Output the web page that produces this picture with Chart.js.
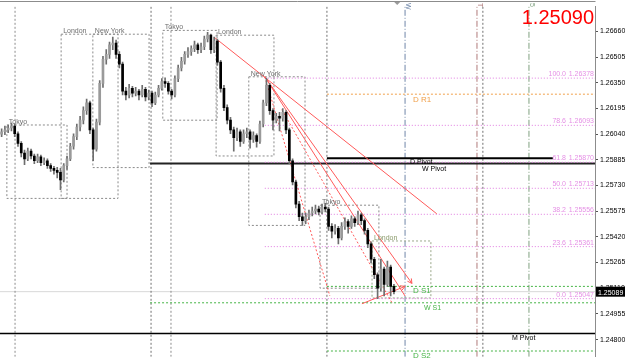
<!DOCTYPE html>
<html>
<head>
<meta charset="utf-8">
<script src="https://cdn.jsdelivr.net/npm/chart.js@4.4.1/dist/chart.umd.min.js"></script>
<style>
  html, body { margin: 0; padding: 0; background: #fff; }
  #wrap { width: 625px; height: 363px; }
</style>
</head>
<body>
<div id="wrap"><canvas id="chart" width="625" height="363"></canvas></div>
<script>
// --- candles (M30), oldest first ---
var OPEN = [
  1.26040,1.26054,1.26066,1.26077,1.26089,1.26042,1.25984,1.25926,1.25891,1.25937,
  1.25908,1.25879,1.25903,1.25868,1.25879,1.25850,1.25833,1.25821,1.25809,1.25763,
  1.25850,1.25891,1.25967,1.26025,1.26083,1.26124,1.26182,1.26229,1.26066,1.25949,
  1.26112,1.26346,1.26491,1.26521,1.26579,1.26590,1.26521,1.26462,1.26299,1.26276,
  1.26316,1.26287,1.26299,1.26276,1.26311,1.26264,1.26287,1.26229,1.26276,1.26316,
  1.26357,1.26346,1.26299,1.26276,1.26375,1.26439,1.26480,1.26521,1.26538,1.26556,
  1.26579,1.26550,1.26567,1.26614,1.26637,1.26550,1.26602,1.26474,1.26316,1.26200,
  1.26124,1.26066,1.26019,1.26054,1.25996,1.26042,1.26054,1.26008,1.26031,1.25996,
  1.26101,1.26229,1.26334,1.26182,1.26124,1.26147,1.26136,1.26171,1.26066,1.25879,
  1.25751,1.25617,1.25541,1.25518,1.25541,1.25564,1.25576,1.25588,1.25570,1.25599,
  1.25588,1.25483,1.25454,1.25471,1.25413,1.25483,1.25512,1.25483,1.25529,1.25506,
  1.25553,1.25518,1.25459,1.25378,1.25285,1.25191,1.25110,1.25226,1.25133,1.25238,
  1.25121
];
var HIGH = [
  1.26072,1.26089,1.26095,1.26107,1.26101,1.26054,1.25995,1.25943,1.25955,1.25949,
  1.25920,1.25920,1.25914,1.25897,1.25891,1.25862,1.25845,1.25839,1.25833,1.25862,
  1.25908,1.25984,1.26042,1.26101,1.26147,1.26205,1.26252,1.26240,1.26077,1.26130,
  1.26363,1.26509,1.26550,1.26596,1.26625,1.26608,1.26538,1.26474,1.26322,1.26340,
  1.26328,1.26322,1.26311,1.26334,1.26322,1.26305,1.26299,1.26293,1.26334,1.26375,
  1.26380,1.26357,1.26311,1.26392,1.26456,1.26503,1.26538,1.26562,1.26573,1.26602,
  1.26590,1.26590,1.26631,1.26655,1.26643,1.26625,1.26614,1.26486,1.26334,1.26217,
  1.26142,1.26083,1.26077,1.26066,1.26066,1.26077,1.26066,1.26054,1.26042,1.26118,
  1.26246,1.26378,1.26346,1.26194,1.26165,1.26171,1.26194,1.26182,1.26077,1.25891,
  1.25763,1.25634,1.25564,1.25564,1.25582,1.25599,1.25611,1.25605,1.25617,1.25623,
  1.25599,1.25500,1.25494,1.25483,1.25506,1.25535,1.25524,1.25547,1.25541,1.25576,
  1.25564,1.25529,1.25471,1.25390,1.25297,1.25203,1.25285,1.25238,1.25273,1.25250,
  1.25133
];
var LOW = [
  1.26025,1.26037,1.26048,1.26060,1.26025,1.25966,1.25903,1.25856,1.25879,1.25891,
  1.25862,1.25868,1.25850,1.25856,1.25833,1.25815,1.25798,1.25775,1.25704,1.25751,
  1.25827,1.25879,1.25949,1.26007,1.26060,1.26101,1.26159,1.26042,1.25879,1.25937,
  1.26095,1.26322,1.26462,1.26497,1.26550,1.26497,1.26439,1.26276,1.26246,1.26258,
  1.26264,1.26270,1.26246,1.26264,1.26240,1.26246,1.26206,1.26217,1.26264,1.26305,
  1.26322,1.26281,1.26252,1.26264,1.26357,1.26421,1.26462,1.26503,1.26515,1.26538,
  1.26527,1.26532,1.26550,1.26596,1.26527,1.26532,1.26456,1.26293,1.26182,1.26101,
  1.26042,1.25937,1.26001,1.25966,1.25984,1.26019,1.25955,1.25990,1.25961,1.25984,
  1.26083,1.26211,1.26159,1.26066,1.26107,1.26060,1.26118,1.26042,1.25862,1.25733,
  1.25594,1.25518,1.25489,1.25500,1.25524,1.25547,1.25559,1.25553,1.25559,1.25570,
  1.25459,1.25413,1.25436,1.25378,1.25401,1.25465,1.25442,1.25471,1.25483,1.25494,
  1.25494,1.25436,1.25355,1.25262,1.25168,1.25047,1.25092,1.25063,1.25121,1.25063,
  1.25075
];
var CLOSE = [
  1.26054,1.26066,1.26077,1.26089,1.26042,1.25984,1.25926,1.25891,1.25937,1.25908,
  1.25879,1.25903,1.25868,1.25879,1.25850,1.25833,1.25821,1.25809,1.25763,1.25850,
  1.25891,1.25967,1.26025,1.26083,1.26124,1.26182,1.26229,1.26066,1.25949,1.26112,
  1.26346,1.26491,1.26521,1.26579,1.26590,1.26521,1.26462,1.26299,1.26276,1.26316,
  1.26287,1.26299,1.26276,1.26311,1.26264,1.26287,1.26229,1.26276,1.26316,1.26357,
  1.26346,1.26299,1.26276,1.26375,1.26439,1.26480,1.26521,1.26538,1.26556,1.26579,
  1.26550,1.26567,1.26614,1.26637,1.26550,1.26602,1.26474,1.26316,1.26200,1.26124,
  1.26066,1.26019,1.26054,1.25996,1.26042,1.26054,1.26008,1.26031,1.25996,1.26101,
  1.26229,1.26334,1.26182,1.26124,1.26147,1.26136,1.26171,1.26066,1.25879,1.25751,
  1.25617,1.25541,1.25518,1.25541,1.25564,1.25576,1.25588,1.25570,1.25599,1.25588,
  1.25483,1.25454,1.25471,1.25413,1.25483,1.25512,1.25483,1.25529,1.25506,1.25553,
  1.25518,1.25459,1.25378,1.25285,1.25191,1.25110,1.25226,1.25133,1.25238,1.25121,
  1.25089
];

// price axis
var Y_MIN = 1.24696;
var Y_MAX = 1.26812;
var Y_TICKS = [1.26660, 1.26505, 1.26350, 1.26195, 1.26040, 1.25885, 1.25730,
               1.25575, 1.25420, 1.25265, 1.25110, 1.24955, 1.24800];
var X_MIN = -0.5;   // bar index range shown (incl. chart shift)
var X_MAX = 181.5;
var BID = 1.25090;

// sessions: name, first bar, last bar, high, low
var SESSION_NAMES = ['Tokyo', 'London', 'New York', 'Tokyo', 'London', 'New York', 'Tokyo', 'London'];
var SESSION_FROM  = [1.6, 18.2, 27.9, 49.3, 65.6, 75.6, 97.4, 113.3];
var SESSION_TO    = [20.0, 35.6, 45.1, 65.9, 83.3, 92.8, 115.4, 131.3];
var SESSION_HIGH  = [1.26095, 1.26643, 1.26643, 1.26666, 1.26637, 1.26386, 1.25611, 1.25395];
var SESSION_LOW   = [1.25652, 1.25652, 1.25838, 1.26124, 1.25908, 1.25489, 1.25110, 1.25051];

// fibonacci retracement from the New York high
var FIB_PCT    = ['100.0', '78.6', '61.8', '50.0', '38.2', '23.6', '0.0'];
var FIB_LEVELS = [1.26378, 1.26093, 1.25870, 1.25713, 1.25556, 1.25361, 1.25047];
var FIB_FROM   = 80.5;

// pivots: name, price, first bar, last bar
var PIVOT_NAMES = ['D R1', 'D Pivot', 'W Pivot', 'D S1', 'W S1', 'D S2', 'M Pivot'];
var PIVOT_PRICE = [1.26281, 1.25894, 1.25862, 1.25121, 1.25022, 1.24731, 1.24836];
var PIVOT_FROM  = [99.5, 99.5, 45.4, 99.5, 45.4, 99.5, -0.5];
var PIVOT_TO    = [181.5, 168.6, 181.5, 181.5, 181.5, 181.5, 181.5];

// vertical lines (bar index)
var VLINES = [4.1, 45.7, 51.8, 99.5, 123.4, 145.4, 147.2, 161.3];
var VLINE_TAGS = ['', '', '', '', 'W', 'T', '', '5'];

// trend lines: start bar, start price, end bar, end price
var TREND_X0 = [65.0, 80.5, 80.5, 80.5, 85.7, 110.2];
var TREND_Y0 = [1.26625, 1.26386, 1.26386, 1.26386, 1.26188, 1.25016];
var TREND_X1 = [133.1, 125.5, 123.4, 100.4, 119.4, 123.4];
var TREND_Y1 = [1.25559, 1.25139, 1.25063, 1.25063, 1.25022, 1.25121];

var FONT = "'Liberation Sans', Arial, sans-serif";

function seg(points, color, dash, width, order) {
  return {
    type: 'line',
    data: points,
    borderColor: color,
    borderWidth: width || 1,
    borderDash: dash || [],
    pointRadius: 0,
    fill: false,
    tension: 0,
    order: order || 5,
  };
}

var datasets = [];

// wicks + bodies
var wicks = [], bodies = [], bodyColors = [];
CLOSE.forEach(function (c, i) {
  wicks.push({ x: i, y: [LOW[i], HIGH[i]] });
  bodies.push({ x: i, y: [OPEN[i], c] });
  bodyColors.push(c < OPEN[i] ? '#000000' : '#9a9a9a');
});
datasets.push({ type: 'bar', data: wicks, backgroundColor: '#6e6e6e', barThickness: 1, grouped: false, order: 1 });
datasets.push({ type: 'bar', data: bodies, backgroundColor: bodyColors, barThickness: 2, grouped: false, order: 0, minBarLength: 1 });

// current price line
datasets.push(seg([{ x: X_MIN, y: CLOSE[CLOSE.length - 1] }, { x: X_MAX, y: CLOSE[CLOSE.length - 1] }], '#d8d8d8', [], 1, 9));

// vertical lines
var vColors = ['#8c8c8c', '#707070', '#8c8c8c', '#707070', '#6f86a8', '#b07a7a', '#707070', '#7fa07f'];
var vDash   = [[2, 2], [2, 2], [2, 2], [2, 2], [6, 2, 1, 2], [6, 2, 1, 2], [2, 2], [6, 2, 1, 2]];
VLINES.forEach(function (x, i) {
  datasets.push(seg([{ x: x, y: Y_MIN }, { x: x, y: Y_MAX }], vColors[i], vDash[i], 1, 8));
});

// session boxes
SESSION_NAMES.forEach(function (n, i) {
  var c = i === 7 ? '#9aa88a' : '#8a8a8a';
  datasets.push(seg([
    { x: SESSION_FROM[i], y: SESSION_HIGH[i] }, { x: SESSION_TO[i], y: SESSION_HIGH[i] },
    { x: SESSION_TO[i], y: SESSION_LOW[i] }, { x: SESSION_FROM[i], y: SESSION_LOW[i] },
    { x: SESSION_FROM[i], y: SESSION_HIGH[i] }
  ], c, [2, 2], 1, 7));
});

// fib levels
FIB_LEVELS.forEach(function (v) {
  datasets.push(seg([{ x: FIB_FROM, y: v }, { x: X_MAX, y: v }], '#e07ae0', [1, 2], 1, 6));
});

// pivots
var pivColors = ['#f0a04a', '#000000', '#222222', '#46b446', '#46b446', '#46b446', '#000000'];
var pivDash   = [[2, 2], [], [], [2, 2], [2, 2], [2, 2], []];
var pivWidth  = [1, 2, 2, 1, 1, 1, 1.5];
PIVOT_NAMES.forEach(function (n, i) {
  datasets.push(seg([{ x: PIVOT_FROM[i], y: PIVOT_PRICE[i] }, { x: PIVOT_TO[i], y: PIVOT_PRICE[i] }],
    pivColors[i], pivDash[i], pivWidth[i], 6));
});

// trend lines
var trendDash = [[], [], [], [2, 2], [2, 2], []];
TREND_X0.forEach(function (x0, i) {
  datasets.push(seg([{ x: x0, y: TREND_Y0[i] }, { x: TREND_X1[i], y: TREND_Y1[i] }], '#ff5a5a', trendDash[i], 1, 2));
});

var overlay = {
  id: 'overlay',
  afterDatasetsDraw: function (chart) {
    var ctx = chart.ctx;
    var xs = chart.scales.x, ys = chart.scales.y;
    var area = chart.chartArea;
    ctx.save();
    ctx.textBaseline = 'alphabetic';

    // frame
    ctx.strokeStyle = '#8c8c8c';
    ctx.lineWidth = 1;
    ctx.beginPath();
    ctx.moveTo(0, 1.5); ctx.lineTo(area.right + 0.5, 1.5);
    ctx.stroke();

    // session labels
    ctx.font = '7px ' + FONT;
    SESSION_NAMES.forEach(function (n, i) {
      ctx.fillStyle = i === 7 ? '#8a9a6a' : '#6e6e6e';
      ctx.textAlign = 'left';
      ctx.fillText(n, xs.getPixelForValue(SESSION_FROM[i]) + 2, ys.getPixelForValue(SESSION_HIGH[i]) - 1);
    });

    // fib labels
    ctx.fillStyle = '#e590e5';
    FIB_LEVELS.forEach(function (v, i) {
      var y = ys.getPixelForValue(v) - 2;
      ctx.textAlign = 'right';
      ctx.fillText(FIB_PCT[i], 566, y);
      ctx.fillText(v.toFixed(5), area.right - 1, y);
    });

    // pivot labels
    var pivLabelX = [413, 410, 422, 413, 424, 413, 512];
    var pivLabelDy = [8, 6, 7, 7, 7, 7, 6];
    var pivText = ['#f0a04a', '#000', '#000', '#46b446', '#46b446', '#46b446', '#000'];
    PIVOT_NAMES.forEach(function (n, i) {
      ctx.fillStyle = pivText[i];
      ctx.textAlign = 'left';
      ctx.font = (i === 0 || i === 3 || i === 5 ? '8px ' : '7px ') + FONT;
      ctx.fillText(n, pivLabelX[i], ys.getPixelForValue(PIVOT_PRICE[i]) + pivLabelDy[i]);
    });

    // vertical line tags
    ctx.font = '7px ' + FONT;
    VLINES.forEach(function (x, i) {
      if (!VLINE_TAGS[i]) return;
      ctx.save();
      ctx.translate(xs.getPixelForValue(x) + 1, 3);
      ctx.rotate(Math.PI / 2);
      ctx.fillStyle = vColors[i];
      ctx.textAlign = 'left';
      ctx.fillText(VLINE_TAGS[i], 0, 0);
      ctx.restore();
    });

    // shift marker
    ctx.fillStyle = '#9a9a9a';
    ctx.beginPath();
    ctx.moveTo(xs.getPixelForValue(121) - 3, 2);
    ctx.lineTo(xs.getPixelForValue(121) + 3, 2);
    ctx.lineTo(xs.getPixelForValue(121), 5);
    ctx.fill();

    // arrow heads on trend lines
    ctx.strokeStyle = '#ff5a5a';
    [1, 5].forEach(function (i) {
      var x1 = xs.getPixelForValue(TREND_X1[i]), y1 = ys.getPixelForValue(TREND_Y1[i]);
      var x0 = xs.getPixelForValue(TREND_X0[i]), y0 = ys.getPixelForValue(TREND_Y0[i]);
      var a = Math.atan2(y1 - y0, x1 - x0);
      ctx.beginPath();
      ctx.moveTo(x1 - 5 * Math.cos(a - 0.5), y1 - 5 * Math.sin(a - 0.5));
      ctx.lineTo(x1, y1);
      ctx.lineTo(x1 - 5 * Math.cos(a + 0.5), y1 - 5 * Math.sin(a + 0.5));
      ctx.stroke();
    });

    // bid price
    ctx.fillStyle = '#ff0000';
    ctx.font = '20px ' + FONT;
    ctx.textAlign = 'right';
    ctx.fillText(BID.toFixed(5), area.right - 1, 24);

    // last price tag on the axis
    var last = CLOSE[CLOSE.length - 1];
    var ly = ys.getPixelForValue(last);
    ctx.fillStyle = '#000';
    ctx.fillRect(area.right + 1, ly - 5, 30, 10);
    ctx.fillStyle = '#fff';
    ctx.font = '7px ' + FONT;
    ctx.textAlign = 'left';
    ctx.fillText(last.toFixed(5), area.right + 3, ly + 3);

    ctx.restore();
  }
};

new Chart(document.getElementById('chart'), {
  type: 'bar',
  data: { datasets: datasets },
  options: {
    responsive: false,
    animation: false,
    devicePixelRatio: 1,
    layout: { padding: 0 },
    plugins: { legend: { display: false }, tooltip: { enabled: false } },
    scales: {
      x: {
        type: 'linear',
        min: X_MIN,
        max: X_MAX,
        offset: false,
        display: false,
      },
      y: {
        type: 'linear',
        position: 'right',
        min: Y_MIN,
        max: Y_MAX,
        afterBuildTicks: function (scale) {
          scale.ticks = Y_TICKS.map(function (v) { return { value: v }; });
        },
        afterFit: function (scale) { scale.width = 30; },
        ticks: {
          autoSkip: false,
          padding: 2,
          color: '#000',
          font: { family: FONT, size: 7 },
          callback: function (v) { return Number(v).toFixed(5); },
        },
        grid: { drawOnChartArea: false, tickLength: 3, color: '#555' },
        border: { display: true, color: '#8c8c8c' },
      },
    },
  },
  plugins: [overlay],
});
</script>
</body>
</html>
